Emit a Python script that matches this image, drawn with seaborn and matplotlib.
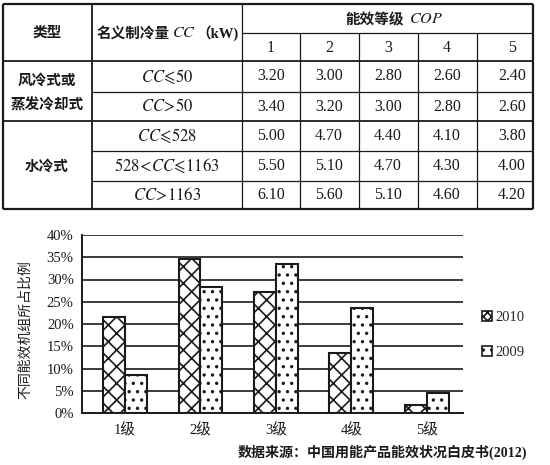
import pandas as pd
import seaborn as sns
import matplotlib.pyplot as plt
from matplotlib.patches import Patch

# -----------------------------
# Table data
# -----------------------------
type_labels = ["风冷式或\n蒸发冷却式", "水冷式"]
capacity_labels = [
    r"$CC\!\leqslant\!50$",
    r"$CC\!>\!50$",
    r"$CC\!\leqslant\!528$",
    r"$528\!<\!CC\!\leqslant\!1163$",
    r"$CC\!>\!1163$",
]
cop_levels = ["1", "2", "3", "4", "5"]
cop_values = [
    [3.20, 3.00, 2.80, 2.60, 2.40],
    [3.40, 3.20, 3.00, 2.80, 2.60],
    [5.00, 4.70, 4.40, 4.10, 3.80],
    [5.50, 5.10, 4.70, 4.30, 4.00],
    [6.10, 5.60, 5.10, 4.60, 4.20],
]

# -----------------------------
# Chart data (share of units, %)
# -----------------------------
grades = ["1级", "2级", "3级", "4级", "5级"]
share_2010 = [21.6, 34.5, 27.1, 13.5, 1.8]
share_2009 = [8.5, 28.4, 33.4, 23.7, 4.6]
years = ["2010", "2009"]

df = pd.DataFrame({
    "grade": grades * 2,
    "year": [years[0]] * 5 + [years[1]] * 5,
    "share": [v / 100 for v in share_2010 + share_2009],
})

sns.set_style("white")
plt.rcParams["mathtext.fontset"] = "stix"
plt.rcParams["hatch.linewidth"] = 1.2
plt.rcParams["hatch.color"] = "#1a1a1a"
plt.rcParams["font.family"] = ["Liberation Serif", "Noto Sans CJK SC", "DejaVu Sans"]

INK = "#1a1a1a"
CJK = ["Noto Sans CJK SC", "DejaVu Sans"]
SERIF_CJK = ["Liberation Serif", "Noto Sans CJK SC", "DejaVu Sans"]

fig = plt.figure(figsize=(5.5, 4.65), dpi=100)

# -----------------------------
# Table (drawn in pixel coords)
# -----------------------------
tab = fig.add_axes([0, 0, 1, 1], zorder=0)
tab.set_xlim(0, 550)
tab.set_ylim(465, 0)
tab.axis("off")

x_left, x_type, x_cap, x_right = 3, 92, 242, 533
col_edges = [242, 300, 359, 418, 477]
y_top, y_cop, y_head, y_bot = 4, 33, 61, 209
row_edges = [61, 92, 121, 151, 181, 209]

def hline(y, x0, x1, lw):
    tab.plot([x0, x1], [y, y], color=INK, lw=lw, solid_capstyle="butt")

def vline(x, y0, y1, lw):
    tab.plot([x, x], [y0, y1], color=INK, lw=lw, solid_capstyle="butt")

hline(y_top, x_left, x_right, 1.6)
hline(y_bot, x_left, x_right, 1.6)
hline(y_head, x_left, x_right, 1.3)
hline(121, x_left, x_right, 1.3)
hline(y_cop, x_cap, x_right, 0.9)
for y in [92, 151, 181]:
    hline(y, x_type, x_right, 0.9)
vline(x_left, y_top, y_bot, 1.6)
vline(x_right, y_top, y_bot, 1.6)
vline(x_type, y_top, y_bot, 1.3)
vline(x_cap, y_top, y_bot, 0.9)
for x in col_edges[1:]:
    vline(x, y_cop, y_bot, 0.9)

tab.text(47, 32, "类型", family=CJK, weight="bold", fontsize=10.5,
         ha="center", va="center", color=INK)
tab.text(97, 33, "名义制冷量", family=CJK, weight="bold", fontsize=10.5,
         ha="left", va="center", color=INK)
tab.text(172, 33, r"$CC$", fontsize=11.5, ha="left", va="center", color=INK)
tab.text(196, 33, "（kW)", family=SERIF_CJK, weight="bold", fontsize=10.5,
         ha="left", va="center", color=INK)
tab.text(404, 19, "能效等级", family=CJK, weight="bold", fontsize=10.5,
         ha="right", va="center", color=INK)
tab.text(409, 19, r"$COP$", fontsize=11.5, ha="left", va="center", color=INK)

col_centers = [271, 329, 388, 447, 512]
for cx, lvl in zip(col_centers, cop_levels):
    tab.text(cx, 48, lvl, family=SERIF_CJK, fontsize=11.5, ha="center",
             va="center", color=INK)

row_centers = [(a + b) / 2 for a, b in zip(row_edges[:-1], row_edges[1:])]
for cy, cap, vals in zip(row_centers, capacity_labels, cop_values):
    tab.text(167, cy, cap, fontsize=12, ha="center", va="center", color=INK)
    for cx, v in zip(col_centers, vals):
        tab.text(cx, cy, f"{v:.2f}", family=SERIF_CJK, fontsize=11.5,
                 ha="center", va="center", color=INK)

tab.text(47, 92, type_labels[0], family=CJK, weight="bold", fontsize=10.5,
         ha="center", va="center", linespacing=1.7, color=INK)
tab.text(47, 166, type_labels[1], family=CJK, weight="bold", fontsize=10.5,
         ha="center", va="center", color=INK)

# -----------------------------
# Bar chart
# -----------------------------
ax = fig.add_axes([82 / 550, 52 / 465, 381 / 550, 178 / 465], zorder=2)
ax.set_facecolor("none")

sns.barplot(data=df, x="grade", y="share", hue="year", hue_order=years,
            order=grades, width=0.58, ax=ax, legend=False)

hatches = ["xx", ".."]
for cont, h in zip(ax.containers, hatches):
    for bar in cont:
        bar.set_facecolor("white")
        bar.set_edgecolor(INK)
        bar.set_linewidth(1.5)
        bar.set_hatch(h)
        bar.set_zorder(3)

ax.set_ylim(0, 0.40)
ax.set_xlim(-0.57, 4.48)
ax.set_yticks([i * 0.05 for i in range(9)])
ax.set_yticklabels([f"{i * 5}%" for i in range(9)], family=SERIF_CJK,
                   fontsize=10.5, color=INK)
ax.set_xticks(range(5))
ax.set_xticklabels(grades, family=SERIF_CJK, fontsize=10.5, color=INK)
ax.tick_params(axis="y", direction="out", length=3, width=1.2, color=INK, pad=3)
ax.tick_params(axis="x", length=0, pad=7)

ax.yaxis.grid(True, color=INK, linewidth=1.2)
ax.set_axisbelow(True)
for side in ["top", "right"]:
    ax.spines[side].set_visible(False)
ax.spines["left"].set_color(INK)
ax.spines["left"].set_linewidth(1.4)
ax.spines["bottom"].set_color(INK)
ax.spines["bottom"].set_linewidth(1.4)

ax.set_xlabel("")
ax.set_ylabel("不同能效机组所占比例", family=CJK, fontsize=10, color=INK)
ax.yaxis.set_label_coords(-0.131, 0.47)

handles = [
    Patch(facecolor="white", edgecolor=INK, hatch="xxxx", linewidth=1.2),
    Patch(facecolor="white", edgecolor=INK, hatch="..", linewidth=1.2),
]
ax.legend(handles, years, loc="center left", bbox_to_anchor=(1.03, 0.44),
          frameon=False, handlelength=0.7, handleheight=0.7,
          handletextpad=0.25, labelspacing=1.5, borderpad=0,
          prop={"family": SERIF_CJK, "size": 10.5})

fig.text(527 / 550, 1 - 452 / 465,
         "数据来源：中国用能产品能效状况白皮书(2012)",
         family=SERIF_CJK, weight="bold", fontsize=10.1,
         ha="right", va="center", color=INK)

plt.savefig("out.png", dpi=100)
